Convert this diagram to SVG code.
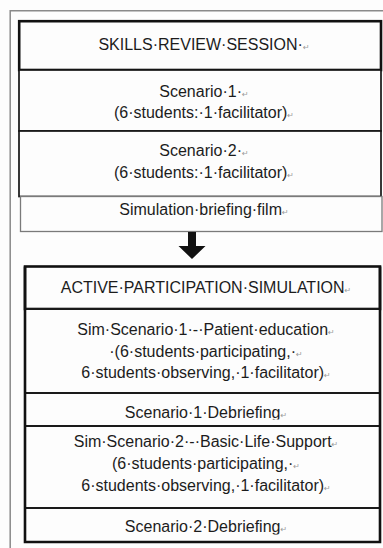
<svg xmlns="http://www.w3.org/2000/svg" width="383" height="548" viewBox="0 0 383 548">
<style>
.bg{fill:#fdfdfd}
.frame{fill:none;stroke:#8a8a8a;stroke-width:1.5}
.box{fill:#fdfdfd;stroke:#161616;stroke-width:1.7}
.thick{fill:#fdfdfd;stroke:#111;stroke-width:2.6}
.mid{fill:#fdfdfd;stroke:#1a1a1a;stroke-width:2}
.light{fill:#fdfdfd;stroke:#7a7a7a;stroke-width:1.3}
.t{font-family:"Liberation Sans",Arial,sans-serif;font-size:16px;fill:#1c1c1c;text-anchor:middle}
.rm{font-family:"DejaVu Sans",sans-serif;font-size:8px;fill:#9a9a9a}
.arrow{fill:#111}
</style>
<defs>
<clipPath id="c1"><rect x="25" y="393" width="355" height="26.5"/></clipPath>
<clipPath id="c2"><rect x="25" y="508" width="355" height="26.5"/></clipPath>
</defs>
<rect class="bg" x="0" y="0" width="383" height="548"/>
<path class="frame" d="M10.2,548 V10.8 H383"/>

<g id="skills-review-session">
<rect class="thick" x="19.2" y="21.2" width="361.8" height="48.8"/>
<text class="t" x="204" y="50">SKILLS·REVIEW·SESSION·<tspan class="rm">↵</tspan></text>
</g>
<g id="scenario-1">
<rect class="box" x="19" y="70" width="362" height="61"/>
<text class="t" x="204" y="96.7">Scenario·1·<tspan class="rm">↵</tspan></text>
<text class="t" x="204" y="118.3">(6·students:·1·facilitator)<tspan class="rm">↵</tspan></text>
</g>
<g id="scenario-2">
<rect class="box" x="19" y="131" width="362" height="65.5"/>
<text class="t" x="204" y="156">Scenario·2·<tspan class="rm">↵</tspan></text>
<text class="t" x="204" y="177.5">(6·students:·1·facilitator)<tspan class="rm">↵</tspan></text>
</g>
<g id="simulation-briefing-film">
<rect class="light" x="20.5" y="196.5" width="361.5" height="35"/>
<text class="t" x="204" y="215">Simulation·briefing·film<tspan class="rm">↵</tspan></text>
</g>

<g id="connectors">
<path class="arrow" d="M188,232 H196 V246 H205.5 L192,259 L178.5,246 H188 Z"/>
</g>

<g id="active-participation-simulation">
<rect class="thick" x="25" y="266.5" width="355" height="42.5"/>
<text class="t" x="206" y="293.3">ACTIVE·PARTICIPATION·SIMULATION<tspan class="rm">↵</tspan></text>
</g>
<g id="sim-scenario-1">
<rect class="mid" x="25" y="309" width="355" height="84"/>
<text class="t" x="206" y="335">Sim·Scenario·1·-·Patient·education<tspan class="rm">↵</tspan></text>
<text class="t" x="206" y="356.7">·(6·students·participating,·<tspan class="rm">↵</tspan></text>
<text class="t" x="206" y="378">6·students·observing,·1·facilitator)<tspan class="rm">↵</tspan></text>
</g>
<g id="scenario-1-debriefing">
<rect class="mid" x="25" y="393" width="355" height="33"/>
<text class="t" x="206" y="417.5" clip-path="url(#c1)">Scenario·1·Debriefing<tspan class="rm">↵</tspan></text>
</g>
<g id="sim-scenario-2">
<rect class="mid" x="25" y="426" width="355" height="82"/>
<text class="t" x="206" y="446.7">Sim·Scenario·2·-·Basic·Life·Support<tspan class="rm">↵</tspan></text>
<text class="t" x="206" y="469">(6·students·participating,·<tspan class="rm">↵</tspan></text>
<text class="t" x="206" y="491">6·students·observing,·1·facilitator)<tspan class="rm">↵</tspan></text>
</g>
<g id="scenario-2-debriefing">
<rect class="mid" x="25" y="508" width="355" height="34"/>
<text class="t" x="206" y="531.5" clip-path="url(#c2)">Scenario·2·Debriefing<tspan class="rm">↵</tspan></text>
</g>
<path fill="none" stroke="#111" stroke-width="2.6" d="M25,266.5 V542 H380 V266.5"/>
</svg>
